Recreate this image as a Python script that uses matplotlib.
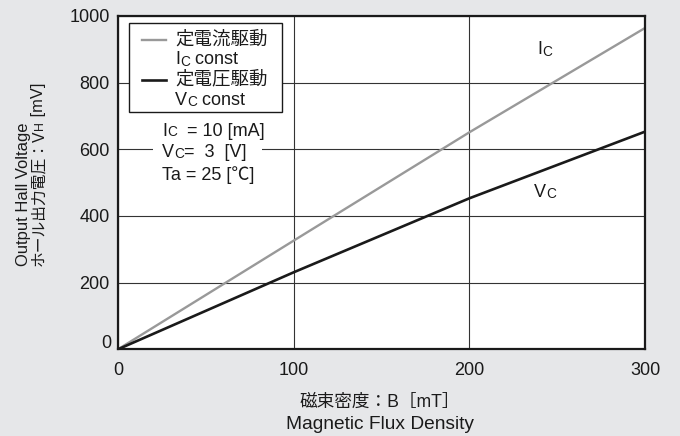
import matplotlib
matplotlib.use("Agg")
import matplotlib.pyplot as plt
from matplotlib.patches import Rectangle
from matplotlib.lines import Line2D

# Hall output voltage vs. magnetic flux density
flux_mT = [0, 100, 200, 300]
vh_const_current = [0, 326, 651, 964]   # Ic = 10 mA
vh_const_voltage = [0, 231, 453, 653]   # Vc = 3 V
x_ticks = [0, 100, 200, 300]
y_ticks = [0, 200, 400, 600, 800, 1000]

FAM = ["Liberation Sans", "Noto Sans CJK JP", "DejaVu Sans"]
plt.rcParams["font.family"] = FAM

W, H = 680, 436
BG = "#e6e7e9"
INK = "#1a1a1a"
GREY = "#999999"
fig = plt.figure(figsize=(W / 100, H / 100), dpi=100, facecolor=BG)


def px(x, y):
    return (x / W, 1 - y / H)


L, R, T, B = 118, 645, 16, 349.3
ax = fig.add_axes([L / W, 1 - B / H, (R - L) / W, (B - T) / H])
ax.set_facecolor("white")
ax.set_xlim(0, 300)
ax.set_ylim(0, 1000)

for s in ax.spines.values():
    s.set_linewidth(1.6)
    s.set_color(INK)
    s.set_zorder(6)

ax.set_xticks(x_ticks)
ax.set_yticks(y_ticks)
ax.set_yticklabels(["" if v == 0 else str(v) for v in y_ticks])
ax.tick_params(length=0, labelsize=13, colors=INK)
ax.tick_params(axis="y", pad=6)
ax.tick_params(axis="x", pad=9)
ax.annotate(str(y_ticks[0]), xy=(0, y_ticks[0]), xycoords=("axes fraction", "data"),
            xytext=(-4.5, 4.5), textcoords="offset points", ha="right", va="center",
            fontsize=13, color=INK, annotation_clip=False)
ax.grid(True, color="#333333", linewidth=0.8)
ax.set_axisbelow(True)

ax.plot(flux_mT, vh_const_current, color=GREY, linewidth=1.7, zorder=3,
        solid_capstyle="butt")
ax.plot(flux_mT, vh_const_voltage, color=INK, linewidth=1.9, zorder=3,
        solid_capstyle="butt")

FT = fig.transFigure


def chain(x, y, parts, size=13, small=9.8, zorder=5):
    """Draw text pieces one after another on a common baseline; small pieces
    act as small capitals."""
    last = None
    for txt, is_small in parts:
        fs = small if is_small else size
        if last is None:
            last = ax.text(x, y, txt, fontsize=fs, ha="left", va="bottom", color=INK,
                           transform=FT, zorder=zorder, clip_on=False)
        else:
            last = ax.annotate(txt, xy=(1, 0), xycoords=last, fontsize=fs, ha="left",
                               va="bottom", color=INK, annotation_clip=False,
                               zorder=zorder)
    return last


# Legend box
ax.add_patch(Rectangle(px(129, 112), (282 - 129) / W, (112 - 23) / H, transform=FT,
                       facecolor="white", edgecolor=INK, linewidth=1.0, zorder=4,
                       clip_on=False))
ax.add_line(Line2D([142 / W, 166 / W], [1 - 40 / H] * 2, color=GREY, linewidth=1.7,
                   zorder=5, transform=FT, clip_on=False))
ax.add_line(Line2D([142 / W, 166 / W], [1 - 80 / H] * 2, color=INK, linewidth=1.9,
                   zorder=5, transform=FT, clip_on=False))
ax.text(*px(175, 40), "定電流駆動", fontsize=13.3, va="center", ha="left", color=INK,
        transform=FT, zorder=5, clip_on=False)
chain(*px(175, 68.5), [("I", False), ("C", True), (" const", False)])
ax.text(*px(175, 80), "定電圧駆動", fontsize=13.3, va="center", ha="left", color=INK,
        transform=FT, zorder=5, clip_on=False)
chain(*px(175, 108.5), [("V", False), ("C", True), (" const", False)])

# Measurement conditions
ax.add_patch(Rectangle(px(153, 183), (262 - 153) / W, (183 - 117) / H, transform=FT,
                       facecolor="white", edgecolor="none", zorder=4, clip_on=False))
chain(*px(162, 139.5), [("I", False), ("C", True), ("  = 10 [mA]", False)])
chain(*px(162, 161), [("V", False), ("C", True), ("=  3  [V]", False)])
chain(*px(162, 184), [("Ta = 25 [℃]", False)])

# Curve labels
chain(*px(537, 58.5), [("I", False), ("C", True)])
chain(*px(534, 200.5), [("V", False), ("C", True)])

# Axis titles
fig.text(*px(380, 402), "磁束密度：B［mT］", fontsize=12.7, ha="center", va="center",
         color=INK)
fig.text(*px(380, 424), "Magnetic Flux Density", fontsize=13.8, ha="center", va="center",
         color=INK)
fig.text(*px(31, 266), "Output Hall Voltage", fontsize=11.9, ha="right", va="bottom",
         rotation=90, color=INK)

# Rotated Japanese y title with small-cap subscript
t1 = ax.text(*px(46, 266), "ホール出力電圧：V", fontsize=11.3, rotation=90, ha="right",
             va="bottom", color=INK, transform=FT, clip_on=False)
t2 = ax.annotate("H", xy=(1, 1), xycoords=t1, fontsize=8.8, rotation=90, ha="right",
                 va="bottom", color=INK, annotation_clip=False)
t3 = ax.annotate(" [mV]", xy=(1, 1), xycoords=t2, fontsize=11.9, rotation=90, ha="right",
                 va="bottom", color=INK, annotation_clip=False)

fig.savefig("out.png", dpi=100, facecolor=BG)
